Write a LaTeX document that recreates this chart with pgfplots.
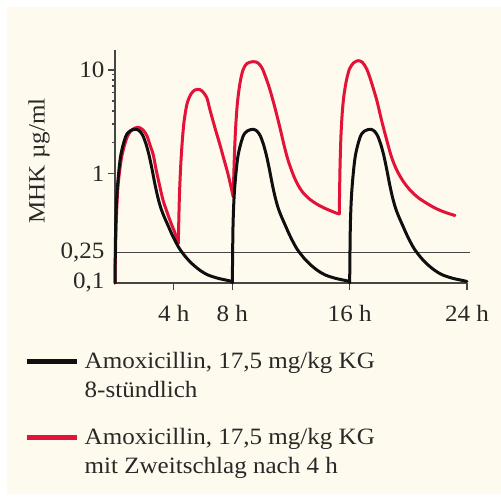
\documentclass[border=0pt]{standalone}
\usepackage{fontspec}
\setmainfont{Liberation Serif}[FakeStretch=1.07]
\usepackage{pgfplots}
\pgfplotsset{compat=1.18}
\definecolor{bg}{RGB}{254,250,237}
\definecolor{myred}{RGB}{226,18,56}
\definecolor{axgray}{RGB}{70,70,70}
\definecolor{txt}{RGB}{40,40,40}
\definecolor{curveblack}{RGB}{15,15,15}
\begin{document}
\begin{tikzpicture}
\fill[white] (0bp,0bp) rectangle (501bp,499bp);
\fill[bg] (7bp,5bp) rectangle (501bp,492bp);
\begin{axis}[
  at={(115bp,216bp)}, anchor=south west,
  scale only axis, width=352bp, height=233bp,
  xmin=0, xmax=24, ymode=log, ymin=0.0867, ymax=15.6,
  axis lines=left, axis line style={axgray, line width=1.3bp, -},
  clip=false,
  xtick={4,8,16,24}, xticklabels={4 h,8 h,16 h,24 h},
  ytick={1,10}, yticklabels={1,10},
  extra y ticks={0.0867,0.170}, extra y tick labels={{0,1},{0,25}},
  extra y tick style={major tick style={draw=none}},
  tick align=outside, major tick length=7bp, minor tick num=0,
  tick style={axgray, line width=1.2bp},
  ticklabel style={text=txt, font=\fontsize{23.5}{28}\selectfont},
  xticklabel style={yshift=-12bp},
  /pgf/number format/assume math mode=true,
  every axis y label/.style={at={(axis description cs:-0.216,0.524)}, rotate=90, anchor=center},
  ylabel={MHK µg/ml},
  label style={text=txt, font=\fontsize{23.5}{28}\selectfont},
  legend style={at={(axis description cs:-0.2585,-0.2876)}, anchor=north west,
    draw=none, fill=none, inner sep=0pt, text=txt,
    font=\fontsize{23.5}{29.5}\selectfont, row sep=25bp},
  legend cell align=left,
  legend image code/.code={\path[draw=none,fill=none] (0bp,-14.75bp) rectangle (56bp,14.75bp);\draw[#1] (0bp,14.75bp) -- (50bp,14.75bp);},
  every axis plot/.append style={line join=round, line cap=round},
]
\addlegendimage{curveblack, line width=5bp, line cap=butt}
\addlegendentry[align=left]{Amoxicillin, 17,5 mg/kg KG\\8-stündlich}
\addlegendimage{myred, line width=5bp, line cap=butt}
\addlegendentry[align=left]{Amoxicillin, 17,5 mg/kg KG\\mit Zweitschlag nach 4 h}

% MHK line 0,25
\addplot[axgray, line width=1.3bp, line cap=butt, forget plot] coordinates {(0,0.170) (24.2,0.170)};

% red: with second dose after 4 h
\addplot[myred, line width=3bp, smooth, tension=0.5, forget plot] coordinates {
(0,0.0867) (0.034,0.181) (0.116,0.441) (0.225,0.806) (0.457,1.448) (0.798,2.182) (1.139,2.626) (1.568,2.788) (1.909,2.626) (2.182,2.297) (2.386,1.879) (2.611,1.504) (2.795,1.100) (3.034,0.770) (3.273,0.551) (3.545,0.422) (3.818,0.330) (4.091,0.264) (4.316,0.210)};
\addplot[myred, line width=3bp, smooth, tension=0.5, forget plot] coordinates {
(4.316,0.210) (4.384,0.551) (4.466,1.076) (4.568,1.879) (4.705,3.138) (4.909,4.688) (5.182,5.857) (5.455,6.404) (5.679,6.505) (5.932,6.263) (6.252,5.418) (6.477,4.101) (6.818,2.745) (7.159,1.879) (7.384,1.438) (7.704,0.984) (7.957,0.689) (8.066,0.590)};
\addplot[myred, line width=3bp, smooth, tension=0.5, forget plot] coordinates {
(8.066,0.590) (8.100,0.963) (8.155,1.681) (8.236,2.935) (8.352,4.898) (8.523,7.484) (8.727,10.0) (9.0,11.56) (9.430,12.03) (9.750,11.69) (10.023,10.46) (10.295,8.367) (10.568,6.404) (10.909,4.287) (11.25,2.745) (11.523,1.879) (11.795,1.345) (12.157,0.963) (12.477,0.770) (12.838,0.645) (13.295,0.558) (13.752,0.504) (14.182,0.467) (14.659,0.436) (15.068,0.413) (15.293,0.404)};
\addplot[myred, line width=3bp, smooth, tension=0.5, forget plot] coordinates {
(15.293,0.404) (15.314,0.689) (15.354,1.345) (15.409,2.349) (15.498,3.921) (15.614,5.728) (15.784,8.003) (15.989,10.22) (16.261,11.69) (16.589,12.30) (16.875,11.82) (17.161,10.22) (17.454,7.826) (17.843,5.124) (18.170,3.281) (18.525,2.101) (18.852,1.438) (19.207,1.076) (19.636,0.842) (20.114,0.689) (20.659,0.583) (21.252,0.5125) (21.818,0.461) (22.384,0.425) (23.182,0.390)};

% black: every 8 h
\addplot[curveblack, line width=3bp, smooth, tension=0.5, forget plot] coordinates {
(0,0.0867) (0.048,0.316) (0.150,0.689) (0.375,1.438) (0.716,2.246) (1.023,2.568) (1.432,2.667) (1.705,2.539) (1.909,2.297) (2.114,1.921) (2.318,1.504) (2.523,1.100) (2.727,0.779) (2.932,0.577) (3.136,0.456) (3.375,0.373) (3.614,0.3125) (3.886,0.2557) (4.159,0.2138) (4.432,0.183) (4.909,0.1497) (5.386,0.128) (5.864,0.1133) (6.341,0.1036) (7.023,0.0963) (7.704,0.0917) (8.0,0.0897)};
\addplot[curveblack, line width=3bp, smooth, tension=0.5, forget plot] coordinates {
(8.0,0.0867) (8.048,0.316) (8.150,0.689) (8.375,1.438) (8.716,2.246) (9.023,2.568) (9.432,2.667) (9.705,2.539) (9.909,2.297) (10.114,1.921) (10.318,1.504) (10.523,1.100) (10.727,0.779) (10.932,0.577) (11.136,0.456) (11.375,0.373) (11.614,0.3125) (11.886,0.2557) (12.159,0.2138) (12.432,0.183) (12.909,0.1497) (13.386,0.128) (13.864,0.1133) (14.341,0.1036) (15.023,0.0963) (15.704,0.0917) (16.0,0.0897)};
\addplot[curveblack, line width=3bp, smooth, tension=0.5, forget plot] coordinates {
(16.0,0.0867) (16.048,0.316) (16.150,0.689) (16.375,1.438) (16.716,2.246) (17.023,2.568) (17.432,2.667) (17.705,2.539) (17.909,2.297) (18.114,1.921) (18.318,1.504) (18.523,1.100) (18.727,0.779) (18.932,0.577) (19.136,0.456) (19.375,0.373) (19.614,0.3125) (19.886,0.2557) (20.159,0.2138) (20.432,0.183) (20.909,0.1497) (21.386,0.128) (21.864,0.1133) (22.341,0.1036) (23.023,0.0963) (23.704,0.0917) (24.0,0.0897)};
\end{axis}
\end{tikzpicture}
\end{document}
